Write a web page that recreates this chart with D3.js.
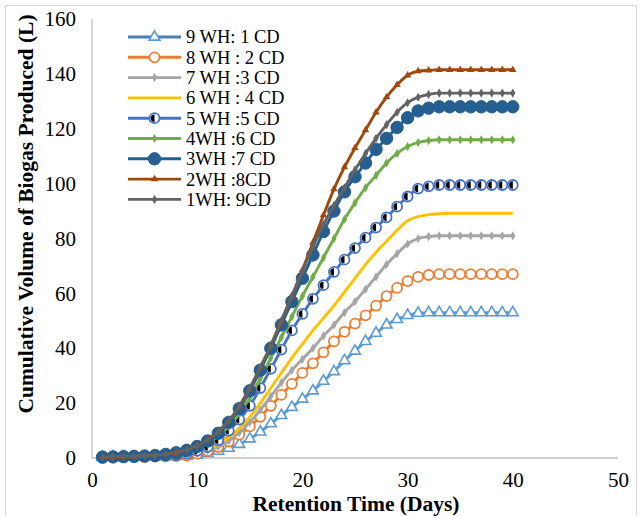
<!DOCTYPE html>
<html><head><meta charset="utf-8">
<script src="https://cdn.jsdelivr.net/npm/d3@7"></script>
<style>body{margin:0;background:#fff}svg{display:block}</style>
</head><body>
<script>
const days = [1,2,3,4,5,6,7,8,9,10,11,12,13,14,15,16,17,18,19,20,21,22,23,24,25,26,27,28,29,30,31,32,33,34,35,36,37,38,39,40];
const seriesNames = ["9 WH: 1 CD","8 WH : 2 CD","7 WH :3 CD","6 WH : 4 CD","5 WH :5 CD","4WH :6 CD","3WH :7 CD","2WH :8CD","1WH: 9CD"];
const wh9cd1 = [0.3,0.3,0.3,0.3,0.4,0.4,0.5,0.6,0.7,1.1,1.7,2.5,3.6,5,7,9.5,12.5,15.5,18.5,21.5,24.5,28,31.5,35.5,39,42.5,45.5,48.5,50.5,52,52.8,53,53,53,53,53,53,53,53,53];
const wh8cd2 = [0.3,0.3,0.3,0.4,0.4,0.5,0.6,0.7,0.9,1.5,2.5,4,6,8.5,11.5,15,19,23,27,31,34.5,38.5,42.5,46,49,52,55.5,59,62,64.5,66,66.7,67,67,67,67,67,67,67,67];
const wh7cd3 = [0.3,0.3,0.4,0.4,0.5,0.6,0.7,0.8,1,1.6,2.6,4,6.2,9.2,13,17.5,22.5,27.5,32,36,40,44.5,48.5,53,57,61.5,66,70.5,74.5,78,80,80.7,81,81,81,81,81,81,81,81];
const wh6cd4 = [0.3,0.3,0.4,0.4,0.5,0.6,0.8,1.0,1.3,2.1,3.3,5,7.5,10.8,15,20,25.5,31,36.5,41.5,46.5,51,55.5,60.5,65.5,70.5,75,79,83,86.5,88,88.7,89,89.2,89.2,89.2,89.2,89.2,89.2,89.2];
const wh5cd5 = [0.3,0.4,0.4,0.5,0.6,0.7,0.9,1.1,1.6,2.6,4.1,6.5,10,14,19,25.5,32.5,39.5,46.5,52.5,58,63,67.8,72.3,76.5,80.3,84,87.7,91.6,95.3,98.2,99,99.5,99.5,99.5,99.5,99.5,99.5,99.5,99.5];
const wh4cd6 = [0.3,0.4,0.5,0.5,0.6,0.8,1.0,1.5,2.3,3.6,5.4,8,11.5,16,22,29,36.5,44,51.5,59,66,73,80,87,93,98.5,103,107.5,111,113.5,115,115.7,116,116,116,116,116,116,116,116];
const wh3cd7 = [0.3,0.4,0.5,0.6,0.7,0.9,1.3,1.9,2.8,4.2,6.2,9,13,18,24.5,32,40,48.5,57,65.5,74,82.5,90,97,102.5,107.5,112.5,116.5,120.5,124,126.5,127.5,128,128,128,128,128,128,128,128];
const wh2cd8 = [0.3,0.4,0.5,0.6,0.8,1.0,1.4,2.0,3.0,4.5,6.6,9.6,13.6,18.8,25.5,33,41,50,59,68.5,78.5,88.5,98,106,113,119.5,126,131.5,136,139.5,141,141.3,141.5,141.5,141.5,141.5,141.5,141.5,141.5,141.5];
const wh1cd9 = [0.3,0.4,0.5,0.6,0.8,1.0,1.4,2.0,3.0,4.5,6.6,9.6,13.6,18.8,25.5,33,41,50,59,68,77,85,92,98.5,105,111,116.5,121.5,126,129.5,131.5,132.5,133,133,133,133,133,133,133,133];
const xTicks = [0,10,20,30,40,50];
const yTicks = [0,20,40,60,80,100,120,140,160];

const styles = [
  {color:"#5B9BD5", legendColor:"#4A7EB5", marker:"triangle"},
  {color:"#ED7D31", marker:"ocircle"},
  {color:"#A5A5A5", marker:"small"},
  {color:"#FFC000", marker:"none"},
  {color:"#4472C4", marker:"half"},
  {color:"#70AD47", marker:"small"},
  {color:"#255E91", marker:"fcircle"},
  {color:"#9E480E", marker:"smalltri"},
  {color:"#636363", marker:"small"}
];
const allSeries = [wh9cd1,wh8cd2,wh7cd3,wh6cd4,wh5cd5,wh4cd6,wh3cd7,wh2cd8,wh1cd9];

const W=642,H=516;
const svg=d3.select("body").append("svg").attr("width",W).attr("height",H);
svg.append("rect").attr("x",5.5).attr("y",5.5).attr("width",631).attr("height",530).attr("fill","#fff").attr("stroke","#d9d9d9").attr("stroke-width",1);

const x=d3.scaleLinear().domain([0,50]).range([92,618]);
const y=d3.scaleLinear().domain([0,160]).range([458,19]);
const font="'Liberation Serif','Times New Roman',serif";

svg.append("line").attr("x1",x(0)).attr("x2",x(0)).attr("y1",y(160)).attr("y2",y(0)).attr("stroke","#bfbfbf").attr("stroke-width",1.3);
svg.append("line").attr("x1",x(0)).attr("x2",x(50)).attr("y1",y(0)).attr("y2",y(0)).attr("stroke","#bfbfbf").attr("stroke-width",1.3);

const xAxis=svg.append("g").attr("transform",`translate(0,${y(0)})`).call(d3.axisBottom(x).tickValues(xTicks).tickSize(0).tickPadding(14));
xAxis.select(".domain").remove();
xAxis.selectAll("text").attr("font-family",font).attr("font-size",21).attr("fill","#000");
const yAxis=svg.append("g").attr("transform",`translate(${x(0)},0)`).call(d3.axisLeft(y).tickValues(yTicks).tickSize(0).tickPadding(16));
yAxis.select(".domain").remove();
yAxis.selectAll("text").attr("font-family",font).attr("font-size",21).attr("fill","#000");

svg.append("text").attr("x",356).attr("y",511).attr("text-anchor","middle").attr("font-family",font).attr("font-weight","bold").attr("font-size",21.5).text("Retention Time (Days)");
svg.append("text").attr("transform","translate(33,214) rotate(-90)").attr("text-anchor","middle").attr("font-family",font).attr("font-weight","bold").attr("font-size",21.5).text("Cumulative Volume of Biogas Produced (L)");

const line=d3.line().x((d,i)=>x(days[i])).y(d=>y(d)).curve(d3.curveMonotoneX);

function drawMarker(g,type,color,cx,cy){
  if(type==="triangle"){
    g.append("path").attr("d",d3.symbol(d3.symbolTriangle,50)()).attr("transform",`translate(${cx},${cy})`).attr("fill","#fff").attr("stroke",color).attr("stroke-width",1.6);
  } else if(type==="ocircle"){
    g.append("circle").attr("cx",cx).attr("cy",cy).attr("r",5).attr("fill","#fff").attr("stroke",color).attr("stroke-width",1.8);
  } else if(type==="half"){
    g.append("circle").attr("cx",cx).attr("cy",cy).attr("r",5).attr("fill","#fff").attr("stroke",color).attr("stroke-width",1.8);
    const r=3.7;
    g.append("path").attr("d",`M${cx},${cy-r} A${r},${r} 0 0 0 ${cx},${cy+r} Z`).attr("fill","#000");
  } else if(type==="fcircle"){
    g.append("circle").attr("cx",cx).attr("cy",cy).attr("r",6.2).attr("fill",color).attr("stroke",color).attr("stroke-width",1);
  } else if(type==="small"){
    g.append("path").attr("d",d3.symbol(d3.symbolDiamond,24)()).attr("transform",`translate(${cx},${cy})`).attr("fill",color);
  } else if(type==="smalltri"){
    g.append("path").attr("d",d3.symbol(d3.symbolTriangle,24)()).attr("transform",`translate(${cx},${cy})`).attr("fill",color);
  }
}

allSeries.forEach((vals,si)=>{
  const st=styles[si];
  const g=svg.append("g");
  g.append("path").datum(vals).attr("d",line).attr("fill","none").attr("stroke",st.color).attr("stroke-width",2.9).attr("stroke-linejoin","round");
  vals.forEach((v,i)=>drawMarker(g,st.marker,st.color,x(days[i]),y(v)));
});

const lg=svg.append("g");
seriesNames.forEach((name,i)=>{
  const st=styles[i];
  const ly=37+i*20.3;
  lg.append("line").attr("x1",128).attr("x2",181).attr("y1",ly).attr("y2",ly).attr("stroke",st.legendColor||st.color).attr("stroke-width",2.9);
  drawMarker(lg,st.marker,st.color,154.5,ly);
  lg.append("text").attr("x",186).attr("y",ly).attr("dy","0.35em").attr("font-family",font).attr("font-size",18.5).attr("fill","#000").text(name);
});
</script>
</body></html>
